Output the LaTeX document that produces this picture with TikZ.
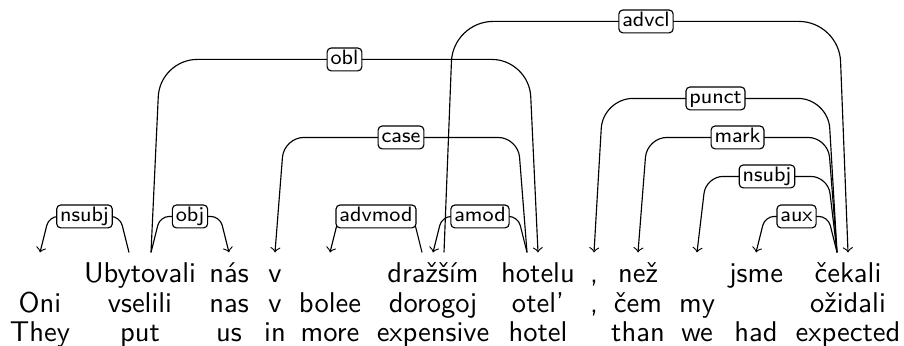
\documentclass[tikz,border=0pt]{standalone}
\usepackage{tikz}
\usetikzlibrary{calc}

\tikzset{
  word/.style={anchor=base, inner xsep=0pt, inner ysep=3.15pt, text height=7pt, text depth=2pt,
    font=\fontsize{10}{12}\selectfont\sffamily},
  deplabel/.style={draw, fill=white, rounded corners=1.4pt, inner xsep=1.2pt, inner ysep=0.75pt,
    text height=5.07pt, text depth=1.42pt, font=\fontsize{7.3}{9}\selectfont\sffamily},
  dep/.style={->, rounded corners=#1},
}

\begin{document}
\begin{tikzpicture}[x=0.35pt,y=-0.35pt]
\useasboundingbox (0,0) rectangle (904,345);
% three rows: Czech, Russian, English
\foreach \i/\x/\cz/\ru/\en in {1/40/{}/Oni/They, 2/140/Ubytovali/vselili/put, 3/229/nás/nas/us,
    4/275/v/v/in, 5/330/{}/bolee/more, 6/433/dražším/dorogoj/expensive, 7/538/hotelu/otel'/hotel,
    8/594/{,}/{,}/{}, 9/638/než/čem/than, 10/697/{}/my/we, 11/756/jsme/{}/had, 12/848/čekali/ožidali/expected} {
  \node[word] (w\i) at (\x,282) {\cz};
  \node[word] (r\i) at (\x,312) {\ru};
  \node[word] (e\i) at (\x,341) {\en};
}

% dependency arcs
\draw[dep=3.2pt] ($(w2.north)+(-11,0)$) -- ++(-9,-36) -- node[deplabel] {nsubj} ($(w1.north)+(9,-36)$) -- (w1.north);
\draw[dep=3.2pt] ($(w2.north)+(11,0)$) -- ++(9,-36) -- node[deplabel] {obj} ($(w3.north)+(-9,-36)$) -- (w3.north);
\draw[dep=13pt] ($(w2.north)+(11,0)$) -- ++(9,-193) -- node[deplabel] {obl} ($(w7.north)+(-9,-193)$) -- (w7.north);
\draw[dep=7pt] ($(w7.north)+(-11,0)$) -- ++(-9,-115) -- node[deplabel] {case} ($(w4.north)+(9,-115)$) -- (w4.north);
\draw[dep=3.2pt] ($(w7.north)+(-11,0)$) -- ++(-9,-36) -- node[deplabel] {amod} ($(w6.north)+(9,-36)$) -- (w6.north);
\draw[dep=3.2pt] ($(w6.north)+(-11,0)$) -- ++(-9,-36) -- node[deplabel] {advmod} ($(w5.north)+(9,-36)$) -- (w5.north);
\draw[dep=14pt] ($(w6.north)+(11,0)$) -- ++(9,-231) -- node[deplabel] {advcl} ($(w12.north)+(-9,-231)$) -- (w12.north);
\draw[dep=10.5pt] ($(w12.north)+(-11,0)$) -- ++(-9,-154) -- node[deplabel] {punct} ($(w8.north)+(9,-154)$) -- (w8.north);
\draw[dep=7pt] ($(w12.north)+(-11,0)$) -- ++(-9,-115) -- node[deplabel] {mark} ($(w9.north)+(9,-115)$) -- (w9.north);
\draw[dep=6pt] ($(w12.north)+(-11,0)$) -- ++(-9,-76) -- node[deplabel] {nsubj} ($(w10.north)+(9,-76)$) -- (w10.north);
\draw[dep=3.2pt] ($(w12.north)+(-11,0)$) -- ++(-9,-36) -- node[deplabel] {aux} ($(w11.north)+(9,-36)$) -- (w11.north);
\end{tikzpicture}
\end{document}
